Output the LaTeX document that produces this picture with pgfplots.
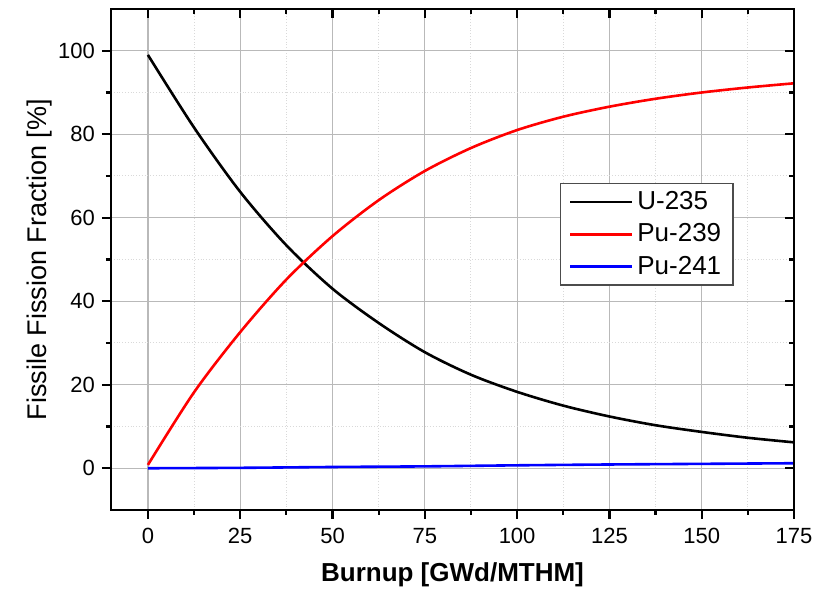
\documentclass[border=0pt]{standalone}
\usepackage{fontspec}
\setmainfont{Liberation Sans}
\usepackage{pgfplots}
\pgfplotsset{compat=1.18}

\pgfplotstableread{
x y
0 99
12.5 81.6
25 66.2
37.5 53.4
50 43
62.5 34.8
75 27.8
87.5 22.4
100 18.3
112.5 15
125 12.4
137.5 10.3
150 8.7
162.5 7.3
175 6.2
}\uranium
\pgfplotstableread{
x y
0 0.8
12.5 18.2
25 32.6
37.5 45.2
50 55.6
62.5 64.2
75 71.2
87.5 76.7
100 81
112.5 84.2
125 86.6
137.5 88.5
150 90
162.5 91.2
175 92.2
}\puA
\pgfplotstableread{
x y
0 0
25 0.1
50 0.3
75 0.45
100 0.7
125 0.9
150 1.05
175 1.2
}\puB

\begin{document}
\begin{tikzpicture}
\pgfplotsset{
  common/.style={
    width=341.5pt, height=250.5pt, scale only axis,
    xmin=-10, xmax=175, ymin=-10, ymax=110,
    xtick={0,25,...,175}, ytick={0,20,...,100},
    minor x tick num=1, minor y tick num=1,
    axis line style={line width=1.2pt},
    major tick length=4.5pt, minor tick length=2.5pt,
    every tick/.style={black, line width=1.1pt},
    /pgf/number format/assume math mode=true,
    tick label style={font=\fontsize{11}{13}\selectfont},
  }
}
\begin{axis}[common,
  xtick pos=bottom, ytick pos=left, tick align=outside,
  grid=both,
  major grid style={gray!55, line width=0.6pt},
  minor grid style={gray!30, densely dotted, line width=0.5pt},
  xlabel={Burnup [GWd/MTHM]},
  ylabel={Fissile Fission Fraction [\%]},
  xticklabel style={yshift=-1pt},
  xlabel style={font=\fontsize{13}{15}\selectfont\bfseries, at={(axis description cs:0.5,-0.1437)}, anchor=base},
  ylabel style={font=\fontsize{13.5}{15}\selectfont, at={(axis description cs:-0.0937,0.5)}, anchor=base, rotate=0},
  legend style={at={(axis description cs:0.912,0.653)}, anchor=north east,
    draw=black!70, line width=0.7pt, font=\fontsize{13}{15}\selectfont,
    inner xsep=4pt, inner ysep=2pt, row sep=1.5pt},
  legend cell align=left,
  legend image code/.code={\draw[#1] (0pt,0pt) -- (31pt,0pt);},
]
\addplot[black, line width=1.3pt, smooth] table {\uranium};
\addlegendentry{U-235}
\addplot[red, line width=1.3pt, smooth] table {\puA};
\addlegendentry{Pu-239}
\addplot[blue, line width=1.3pt, smooth] table {\puB};
\addlegendentry{Pu-241}
\end{axis}
\begin{axis}[common,
  xtick pos=top, ytick pos=right, tick align=inside,
  xticklabels={}, yticklabels={},
]
\end{axis}
\path (current axis.south west) +(-55.5pt,-42pt) coordinate (bl);
\path (current axis.north east) +(16.5pt,4.5pt) coordinate (tr);
\pgfresetboundingbox
\useasboundingbox (bl) rectangle (tr);
\end{tikzpicture}
\end{document}
